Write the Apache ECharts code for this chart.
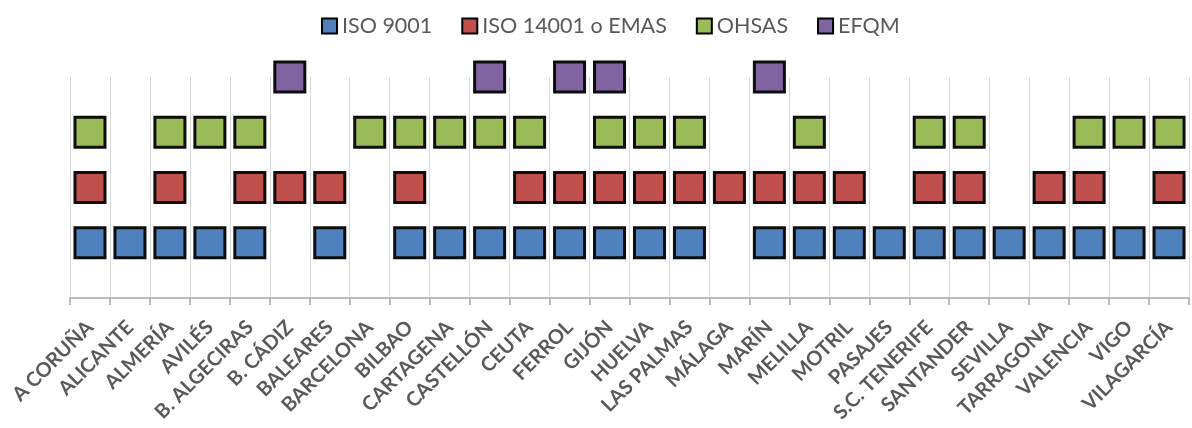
<!DOCTYPE html>
<html>
<head>
<meta charset="utf-8">
<script src="https://cdn.jsdelivr.net/npm/echarts@6/dist/echarts.min.js"></script>
<style>
  html, body { margin: 0; padding: 0; background: #fff; }
  #chart { width: 1192px; height: 428px; }
</style>
</head>
<body>
<div id="chart"></div>
<script>
// Ports and the certifications each one holds (row level, null = not held)
const categories = ['A CORUÑA', 'ALICANTE', 'ALMERÍA', 'AVILÉS', 'B. ALGECIRAS', 'B. CÁDIZ', 'BALEARES',
  'BARCELONA', 'BILBAO', 'CARTAGENA', 'CASTELLÓN', 'CEUTA', 'FERROL', 'GIJÓN', 'HUELVA', 'LAS PALMAS',
  'MÁLAGA', 'MARÍN', 'MELILLA', 'MOTRIL', 'PASAJES', 'S.C. TENERIFE', 'SANTANDER', 'SEVILLA',
  'TARRAGONA', 'VALENCIA', 'VIGO', 'VILAGARCÍA'];

const iso9001 = [1, 1, 1, 1, 1, null, 1, null, 1, 1, 1, 1, 1, 1, 1, 1, null, 1, 1, 1, 1, 1, 1, 1, 1, 1, 1, 1];
const iso14001 = [2, null, 2, null, 2, 2, 2, null, 2, null, null, 2, 2, 2, 2, 2, 2, 2, 2, 2, null, 2, 2, null, 2, 2, null, 2];
const ohsas = [3, null, 3, 3, 3, null, null, 3, 3, 3, 3, 3, null, 3, 3, 3, null, null, 3, null, null, 3, 3, null, null, 3, 3, 3];
const efqm = [null, null, null, null, null, 4, null, null, null, null, 4, null, 4, 4, null, null, null, 4, null, null, null, null, null, null, null, null, null, null];

const seriesNames = ['ISO 9001', 'ISO 14001 o EMAS', 'OHSAS', 'EFQM'];
const seriesValues = [iso9001, iso14001, ohsas, efqm];
const seriesColors = ['#4F81BD', '#C0504D', '#9BBB59', '#8064A2'];

const fontFamily = 'Lato, "Open Sans", sans-serif';

const toPoints = (vals) => vals
  .map((v, i) => (v == null ? null : [i, v]))
  .filter((p) => p !== null);

const chart = echarts.init(document.getElementById('chart'), null, { renderer: 'canvas' });

chart.setOption({
  animation: false,
  backgroundColor: '#ffffff',
  legend: {
    top: 10,
    left: 316,
    itemWidth: 15,
    itemHeight: 15,
    itemGap: 29,
    icon: 'rect',
    itemStyle: { borderColor: '#000', borderWidth: 2 },
    textStyle: { fontFamily, fontSize: 21.5, color: '#595959' },
    data: seriesNames
  },
  grid: { left: 70, right: 3, top: 77, bottom: 130, containLabel: false },
  xAxis: {
    type: 'category',
    data: categories,
    boundaryGap: true,
    axisLine: { lineStyle: { color: '#a6a6a6', width: 1.5 } },
    axisTick: { show: true, length: 7, lineStyle: { color: '#a6a6a6', width: 1.5 } },
    splitLine: { show: true, lineStyle: { color: '#d9d9d9', width: 1 } },
    axisLabel: {
      interval: 0,
      rotate: 45,
      margin: 26,
      fontFamily,
      fontSize: 20,
      fontWeight: 'bold',
      color: '#595959'
    }
  },
  yAxis: {
    type: 'value',
    min: 0,
    max: 4,
    interval: 1,
    show: false,
    splitLine: { show: false }
  },
  series: seriesNames.map((name, k) => ({
    name,
    type: 'scatter',
    clip: false,
    symbol: 'rect',
    symbolSize: 30,
    itemStyle: { color: seriesColors[k], borderColor: '#0d0d0d', borderWidth: 3, opacity: 1 },
    data: toPoints(seriesValues[k])
  }))
});
</script>
</body>
</html>
